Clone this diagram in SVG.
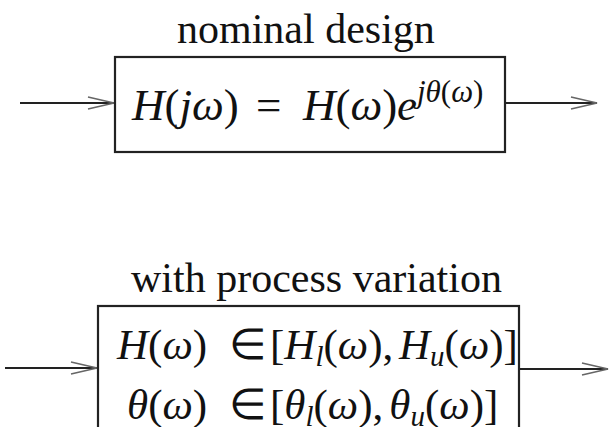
<svg xmlns="http://www.w3.org/2000/svg" width="610" height="427" viewBox="0 0 610 427">
<style>
.box{fill:#fff;stroke:#222;stroke-width:2.2}
.lbl{font-family:"Liberation Serif","Times New Roman",serif;font-size:42px;fill:#111}
.m{font-family:"Liberation Serif","Times New Roman",serif;font-size:45px;fill:#111}
.m2{font-family:"Liberation Serif","Times New Roman",serif;font-size:43px;fill:#111}
.i{font-style:italic}
.sup{font-size:31px}
.sub{font-size:29px}
.wire{stroke:#222;stroke-width:2;fill:none}
</style>
<defs>
<marker id="arr" viewBox="0 0 28 14" refX="27" refY="7" markerWidth="28" markerHeight="14" markerUnits="userSpaceOnUse" orient="auto">
<path d="M1,1 L27,7 L1,13" fill="none" stroke="#666" stroke-width="1.6"/>
</marker>
</defs>
<rect width="610" height="427" fill="#fff"/>
<g id="connectors">
<line class="wire" x1="20" y1="103" x2="114" y2="103" marker-end="url(#arr)"/>
<line class="wire" x1="506" y1="103" x2="597" y2="103" marker-end="url(#arr)"/>
<line class="wire" x1="5" y1="368" x2="97" y2="368" marker-end="url(#arr)"/>
<line class="wire" x1="520" y1="369" x2="608" y2="369" marker-end="url(#arr)"/>
</g>
<g id="nominal">
<text class="lbl" x="177" y="43">nominal design</text>
<rect class="box" x="115" y="57" width="390" height="95"/>
<text class="m" y="120"><tspan x="132" class="i">H</tspan><tspan>(</tspan><tspan class="i">jω</tspan><tspan>)</tspan><tspan x="256">=</tspan><tspan x="303" class="i">H</tspan><tspan>(</tspan><tspan class="i">ω</tspan><tspan>)</tspan><tspan x="397" class="i">e</tspan><tspan class="sup" dy="-18"><tspan class="i">jθ</tspan>(<tspan class="i">ω</tspan>)</tspan></text>
</g>
<g id="variation">
<text class="lbl" x="131" y="292">with process variation</text>
<rect class="box" x="98" y="306" width="421" height="130"/>
<text class="m2" y="359"><tspan x="117" class="i">H</tspan><tspan>(</tspan><tspan class="i">ω</tspan><tspan>)</tspan><tspan x="229">∈</tspan><tspan x="270">[</tspan><tspan class="i">H</tspan><tspan class="sub i" dy="7">l</tspan><tspan dy="-7">(</tspan><tspan class="i">ω</tspan><tspan>),</tspan><tspan x="399" class="i">H</tspan><tspan class="sub i" dy="7">u</tspan><tspan dy="-7">(</tspan><tspan class="i">ω</tspan><tspan>)]</tspan></text>
<text class="m2" y="419"><tspan x="127" class="i">θ</tspan><tspan>(</tspan><tspan class="i">ω</tspan><tspan>)</tspan><tspan x="229">∈</tspan><tspan x="270">[</tspan><tspan class="i">θ</tspan><tspan class="sub i" dy="7">l</tspan><tspan dy="-7">(</tspan><tspan class="i">ω</tspan><tspan>),</tspan><tspan class="i" dx="6">θ</tspan><tspan class="sub i" dy="7">u</tspan><tspan dy="-7">(</tspan><tspan class="i">ω</tspan><tspan>)]</tspan></text>
</g>
</svg>
